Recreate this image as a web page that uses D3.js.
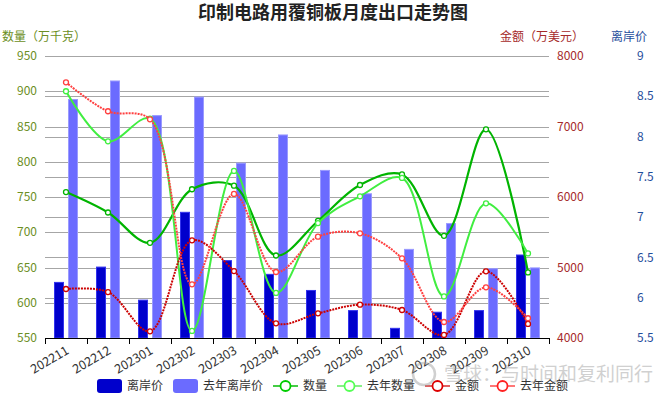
<!DOCTYPE html>
<html>
  <head>
    <meta charset="utf-8">
    <script type="text/javascript" src="https://cdn.jsdelivr.net/npm/d3@7/dist/d3.min.js"></script>
    <style>
      body { margin: 0; background: #fff; }
      text { font-family: "Noto Sans CJK SC", "Noto Sans", sans-serif; }
    </style>
  </head>
  <body>
    <script type="text/javascript">
    // data
    var categories = ['202211', '202212', '202301', '202302', '202303', '202304',
                      '202305', '202306', '202307', '202308', '202309', '202310'];
    var price = [6.19, 6.38, 5.97, 7.06, 6.46, 6.29, 6.09, 5.84, 5.62, 5.82, 5.84, 6.53];
    var priceLastYear = [8.46, 8.69, 8.26, 8.49, 7.67, 8.02, 7.58, 7.29, 6.60, 6.92, 6.36, 6.37];
    var qty = [757, 728, 685, 761, 766, 667, 716, 767, 782, 695, 846, 643];
    var qtyLastYear = [900, 829, 861, 560, 787, 614, 713, 751, 777, 609, 741, 670];
    var amount = [4695, 4652, 4095, 5386, 4950, 4208, 4350, 4473, 4397, 4043, 4946, 4200];
    var amountLastYear = [7627, 7216, 7102, 4762, 6043, 4936, 5437, 5485, 5130, 4227, 4719, 4280];

    var qtyTicks = [550, 600, 650, 700, 750, 800, 850, 900, 950];
    var amountTicks = [4000, 5000, 6000, 7000, 8000];
    var priceTicks = [5.5, 6, 6.5, 7, 7.5, 8, 8.5, 9];

    var W = 670, H = 396;
    var plotLeft = 45, plotRight = 549, plotTop = 56, plotBottom = 338;

    var svg = d3.select('body').append('svg')
                .attr('width', W)
                .attr('height', H);

    var x = d3.scaleBand().domain(categories).range([plotLeft, plotRight]).padding(0);
    var x1 = d3.scaleBand().domain([0, 1]).range([0, x.bandwidth()])
               .paddingInner(0.2857).paddingOuter(0.643);
    var yQty = d3.scaleLinear().domain([550, 950]).range([plotBottom, plotTop]);
    var yAmt = d3.scaleLinear().domain([4000, 8000]).range([plotBottom, plotTop]);
    var yPrice = d3.scaleLinear().domain([5.5, 9]).range([plotBottom, plotTop]);

    // title
    svg.append('text')
       .attr('x', 333).attr('y', 19)
       .attr('text-anchor', 'middle')
       .style('font-size', '18px').style('font-weight', 'bold')
       .style('fill', '#222')
       .text('印制电路用覆铜板月度出口走势图');

    // axis titles
    svg.append('text').attr('x', 2).attr('y', 41)
       .style('font-size', '12px').style('fill', '#6b8e23')
       .text('数量（万千克）');
    svg.append('text').attr('x', 584).attr('y', 41).attr('text-anchor', 'end')
       .style('font-size', '12px').style('fill', '#a52a2a')
       .text('金额（万美元）');
    svg.append('text').attr('x', 611).attr('y', 41)
       .style('font-size', '12px').style('fill', '#1f4e9c')
       .text('离岸价');

    // grid lines
    var grid = svg.append('g').attr('class', 'grid');
    grid.selectAll('line.q')
        .data(qtyTicks.slice(1))
        .enter().append('line')
        .attr('class', 'q')
        .attr('x1', plotLeft).attr('x2', plotRight)
        .attr('y1', function(d) { return Math.round(yQty(d)) + 0.5; })
        .attr('y2', function(d) { return Math.round(yQty(d)) + 0.5; })
        .style('stroke', '#a6a6a6');
    grid.selectAll('line.p')
        .data(priceTicks.slice(1, -1))
        .enter().append('line')
        .attr('class', 'p')
        .attr('x1', plotLeft).attr('x2', plotRight)
        .attr('y1', function(d) { return Math.round(yPrice(d)) + 0.5; })
        .attr('y2', function(d) { return Math.round(yPrice(d)) + 0.5; })
        .style('stroke', '#a6a6a6');

    // tick labels
    svg.selectAll('text.lq')
       .data(qtyTicks)
       .enter().append('text')
       .attr('class', 'lq')
       .attr('x', 37).attr('y', function(d) { return yQty(d); })
       .attr('dy', '0.35em').attr('text-anchor', 'end')
       .style('font-size', '12px').style('fill', '#6b8e23')
       .text(function(d) { return d; });
    svg.selectAll('text.la')
       .data(amountTicks)
       .enter().append('text')
       .attr('class', 'la')
       .attr('x', 557).attr('y', function(d) { return yAmt(d); })
       .attr('dy', '0.35em')
       .style('font-size', '12px').style('fill', '#a52a2a')
       .text(function(d) { return d; });
    svg.selectAll('text.lp')
       .data(priceTicks)
       .enter().append('text')
       .attr('class', 'lp')
       .attr('x', 637).attr('y', function(d) { return yPrice(d); })
       .attr('dy', '0.35em')
       .style('font-size', '12px').style('fill', '#1f4e9c')
       .text(function(d) { return d; });

    // bars
    var barData = categories.map(function(c, i) {
        return [{ c: c, k: 0, v: price[i] }, { c: c, k: 1, v: priceLastYear[i] }];
    });
    var barFill = ['#0000cc', '#6b6bff'];
    var barStroke = ['#3333ee', '#9a9aff'];
    svg.append('g').selectAll('g')
       .data(barData)
       .enter().append('g')
       .attr('transform', function(d) { return 'translate(' + x(d[0].c) + ',0)'; })
       .selectAll('rect')
       .data(function(d) { return d; })
       .enter().append('rect')
       .attr('x', function(d) { return x1(d.k) + 0.5; })
       .attr('y', function(d) { return yPrice(d.v); })
       .attr('width', x1.bandwidth() - 1)
       .attr('height', function(d) { return plotBottom - yPrice(d.v); })
       .style('fill', function(d) { return barFill[d.k]; })
       .style('stroke', function(d) { return barStroke[d.k]; })
       .style('stroke-width', 1);

    // x axis
    var xAxis = svg.append('g').attr('transform', 'translate(0,' + plotBottom + ')');
    xAxis.append('line')
         .attr('x1', plotLeft).attr('x2', plotRight).attr('y1', 0.5).attr('y2', 0.5)
         .style('stroke', '#000');
    xAxis.selectAll('line.t')
         .data(categories.concat(['end']))
         .enter().append('line')
         .attr('class', 't')
         .attr('x1', function(d, i) { return Math.round(plotLeft + i * x.bandwidth()) + 0.5; })
         .attr('x2', function(d, i) { return Math.round(plotLeft + i * x.bandwidth()) + 0.5; })
         .attr('y1', 0).attr('y2', 6)
         .style('stroke', '#000');
    xAxis.selectAll('text')
         .data(categories)
         .enter().append('text')
         .attr('transform', function(d) {
             return 'translate(' + (x(d) + x.bandwidth() / 2 - 1) + ',7) rotate(-30)';
         })
         .attr('text-anchor', 'end')
         .attr('dy', '0.75em')
         .style('font-size', '12.5px').style('fill', '#333')
         .text(function(d) { return d; });

    // lines
    var curve = d3.curveCatmullRom.alpha(0.5);
    var series = [
        { name: '数量', values: qty, y: yQty, color: '#00b400', width: 2.2, dash: null },
        { name: '去年数量', values: qtyLastYear, y: yQty, color: '#40ee40', width: 2, dash: null },
        { name: '金额', values: amount, y: yAmt, color: '#cc0000', width: 2, dash: '2,1' },
        { name: '去年金额', values: amountLastYear, y: yAmt, color: '#ff4040', width: 2, dash: '2,1' }
    ];
    series.forEach(function(s) {
        var line = d3.line()
                     .x(function(d, i) { return x(categories[i]) + x.bandwidth() / 2; })
                     .y(function(d) { return s.y(d); })
                     .curve(curve);
        var g = svg.append('g');
        g.append('path')
         .attr('d', line(s.values))
         .style('fill', 'none')
         .style('stroke', s.color)
         .style('stroke-width', s.width)
         .style('stroke-dasharray', s.dash);
        g.selectAll('circle')
         .data(s.values)
         .enter().append('circle')
         .attr('cx', function(d, i) { return x(categories[i]) + x.bandwidth() / 2; })
         .attr('cy', function(d) { return s.y(d); })
         .attr('r', 2.5)
         .style('fill', '#fff')
         .style('stroke', s.color)
         .style('stroke-width', 1.3);
    });

    // legend
    var legend = svg.append('g').attr('transform', 'translate(0,386)');
    var legendItems = [
        { name: '离岸价', type: 'bar', color: '#0000cc', x: 97 },
        { name: '去年离岸价', type: 'bar', color: '#6b6bff', x: 173 },
        { name: '数量', type: 'line', color: '#00cc00', lc: '#44cc44', x: 273 },
        { name: '去年数量', type: 'line', color: '#55ff55', lc: '#88f088', x: 337 },
        { name: '金额', type: 'line', color: '#dd0000', lc: '#e06060', x: 425 },
        { name: '去年金额', type: 'line', color: '#ff2222', lc: '#ff7777', x: 490 }
    ];
    legendItems.forEach(function(d) {
        var g = legend.append('g').attr('transform', 'translate(' + d.x + ',0)');
        if (d.type === 'bar') {
            g.append('rect').attr('x', 0).attr('y', -7).attr('width', 25).attr('height', 14)
             .attr('rx', 3).style('fill', d.color);
        } else {
            g.append('line').attr('x1', 0).attr('x2', 25).attr('y1', 0).attr('y2', 0)
             .style('stroke', d.lc).style('stroke-width', 2);
            g.append('circle').attr('cx', 12.5).attr('cy', 0).attr('r', 5)
             .style('fill', '#fff').style('stroke', d.color).style('stroke-width', 1.8);
        }
        g.append('text').attr('x', 30).attr('y', 0).attr('dy', '0.35em')
         .style('font-size', '12px').style('fill', '#333')
         .text(d.name);
    });

    // watermark
    var wm = svg.append('g').style('opacity', 0.45);
    wm.append('circle').attr('cx', 424).attr('cy', 374).attr('r', 11)
      .style('fill', 'none').style('stroke', '#999').style('stroke-width', 2.5);
    wm.append('text').attr('x', 444).attr('y', 381)
      .style('font-size', '19px').style('fill', '#999')
      .text('雪球：与时间和复利同行');
    </script>
  </body>
</html>
